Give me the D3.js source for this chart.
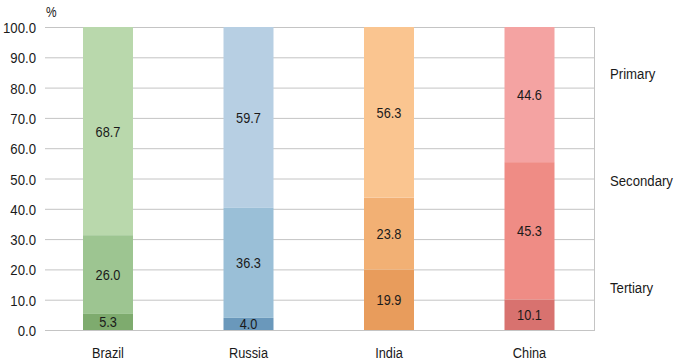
<!DOCTYPE html>
<html><head><meta charset="utf-8">
<script src="https://cdn.jsdelivr.net/npm/d3@7"></script>
<style>
body{margin:0;background:#fff;}
text{font-family:"Liberation Sans",Arial,sans-serif;fill:#1a1a1a;}
</style></head>
<body><svg id="c" width="679" height="361"></svg>
<script>
const countries = ["Brazil","Russia","India","China"];
const sectors = ["Tertiary","Secondary","Primary"];
const tertiary = [5.3, 4.0, 19.9, 10.1];
const secondary = [26.0, 36.3, 23.8, 45.3];
const primary = [68.7, 59.7, 56.3, 44.6];
const yTicks = [0,10,20,30,40,50,60,70,80,90,100];
const colors = {
  Brazil: ["#7eab6e","#9dc591","#b9d8ac"],
  Russia: ["#6a98bb","#9abfd7","#b7cfe3"],
  India: ["#e89c5c","#f2b074","#fac590"],
  China: ["#d8726f","#ef8c85","#f4a3a2"]
};
const SX = 0.85; // condensed look

const svg = d3.select("#c");
const L = 45, R = 594, T = 27, B = 330;
const x = d3.scalePoint().domain(countries).range([108, 529.5]);
const y = d3.scaleLinear().domain([0,100]).range([B, T]);
const barW = 50;
const fmt = d3.format(".1f");

function place(sel, fx, fy) {
  return sel.attr("transform", (d,i) => `translate(${fx(d,i)},${fy(d,i)}) scale(${SX},1)`);
}

// gridlines
svg.append("g").selectAll("line").data(yTicks).join("line")
  .attr("x1", L).attr("x2", R)
  .attr("y1", d => y(d)+0.5).attr("y2", d => y(d)+0.5)
  .attr("stroke", "#c4c4c4").attr("stroke-width", 1);
svg.append("line").attr("x1", R+0.5).attr("x2", R+0.5).attr("y1", y(100)).attr("y2", y(0)+1)
  .attr("stroke", "#c4c4c4");

// y tick labels
place(svg.append("g").selectAll("text").data(yTicks).join("text"),
  () => L - 9, d => y(d) + 6)
  .attr("text-anchor", "end").attr("font-size", 15.5).text(d => fmt(d));

place(svg.append("text").datum(0), () => 46, () => 17).attr("font-size", 14).text("%");

// stacked bars
const rows = countries.map((c,i) => ({country:c, Tertiary:tertiary[i], Secondary:secondary[i], Primary:primary[i]}));
const stack = d3.stack().keys(sectors)(rows);
stack.forEach((layer, li) => {
  const g = svg.append("g");
  g.selectAll("rect").data(layer).join("rect")
    .attr("x", d => x(d.data.country) - barW/2)
    .attr("width", barW)
    .attr("y", d => y(d[1]))
    .attr("height", d => y(d[0]) - y(d[1]))
    .attr("fill", d => colors[d.data.country][li]);
  place(g.selectAll("text").data(layer).join("text"),
    d => x(d.data.country), d => (y(d[0]) + y(d[1]))/2 + 5.5)
    .attr("text-anchor", "middle")
    .attr("font-size", 15)
    .text(d => fmt(d[1]-d[0]));
});

// x labels
place(svg.append("g").selectAll("text").data(countries).join("text"),
  d => x(d), () => 358)
  .attr("text-anchor", "middle").attr("font-size", 15).text(d => d);

// sector labels at right
const legY = {Primary: 73, Secondary: 180, Tertiary: 287};
place(svg.append("g").selectAll("text").data(sectors).join("text"),
  () => 610, d => legY[d] + 5.5)
  .attr("font-size", 15.5).text(d => d);
</script></body></html>
